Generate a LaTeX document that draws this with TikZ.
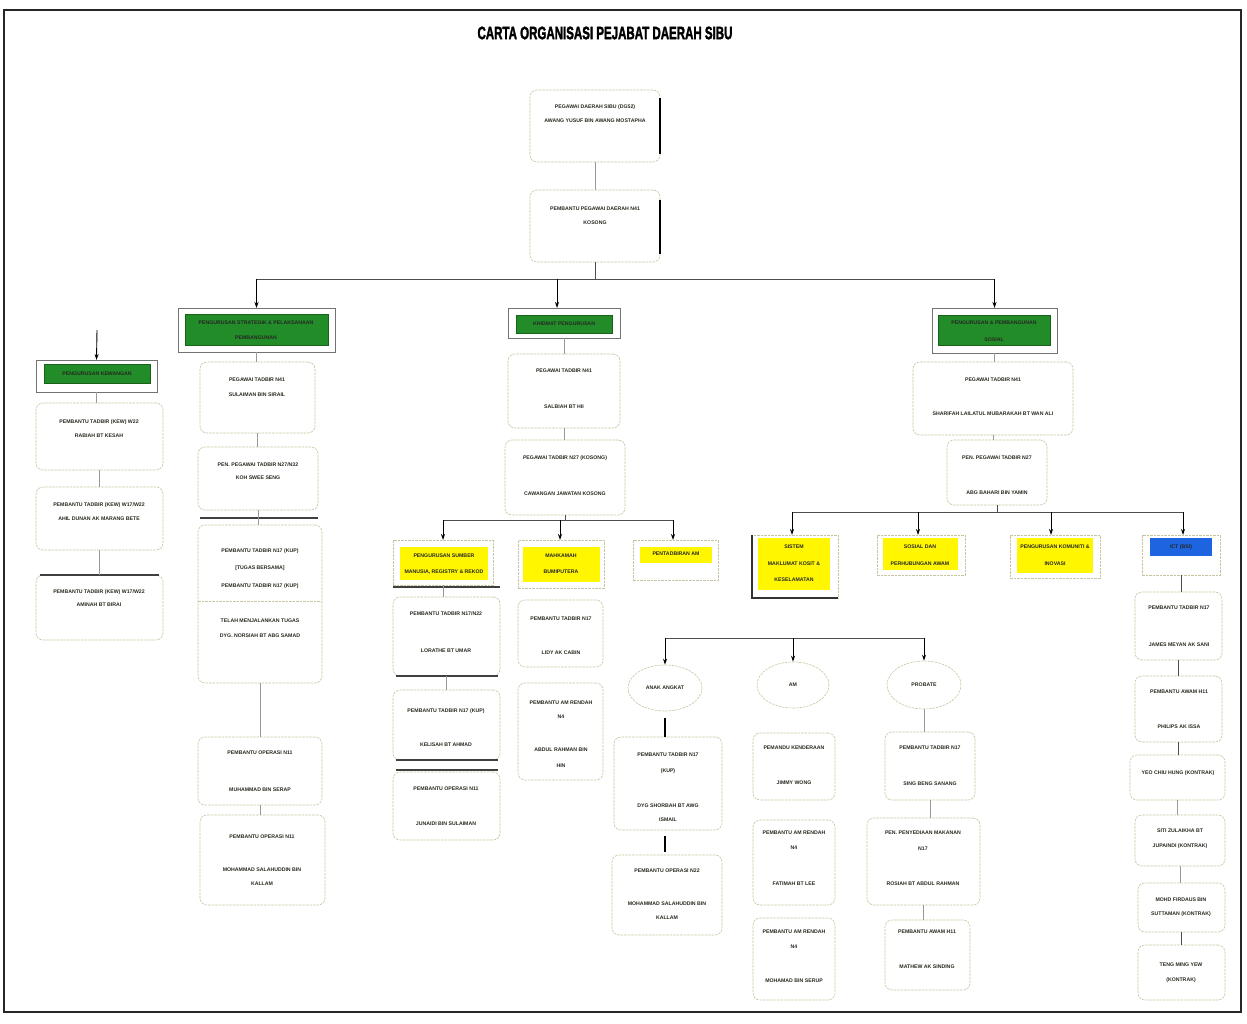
\documentclass[tikz,border=0pt]{standalone}
\usepackage{fontspec}
\usepackage{graphicx}
\setmainfont{Liberation Sans}
\newfontfamily\titlefont[FakeBold=2.5]{Liberation Sans Bold}
\usetikzlibrary{arrows.meta,shapes.geometric}
\definecolor{cardline}{RGB}{200,196,160}
\definecolor{hdgreen}{RGB}{34,140,40}
\definecolor{hdyellow}{RGB}{255,246,0}
\definecolor{hdblue}{RGB}{30,100,225}
\definecolor{txtc}{RGB}{40,40,30}
\tikzset{
  card/.style={draw=cardline,dash pattern=on 2.5pt off 1pt,line width=0.6pt,rounded corners=7pt,inner sep=0pt,outer sep=0pt},
  hdr/.style={draw=black!55,line width=0.6pt,inner sep=0pt,outer sep=0pt},
  subhdr/.style={draw=cardline,dash pattern=on 2.5pt off 1pt,line width=0.6pt,inner sep=0pt,outer sep=0pt},
  gfill/.style={fill=hdgreen,draw=hdgreen!70!black,line width=0.3pt,inner sep=0pt,outer sep=0pt},
  yfill/.style={fill=hdyellow,draw=none,inner sep=0pt,outer sep=0pt},
  bfill/.style={fill=hdblue,draw=none,inner sep=0pt,outer sep=0pt},
  ell/.style={ellipse,draw=cardline,dash pattern=on 2.5pt off 1pt,line width=0.6pt,inner sep=0pt},
  lab/.style={font=\fontsize{5.2}{6}\selectfont\bfseries,text=txtc,inner sep=0pt},
  hlab/.style={font=\fontsize{5.2}{6}\selectfont\bfseries,text=black!85,inner sep=0pt},
  conn/.style={draw=black!40,line width=0.5pt},
  dconn/.style={draw=black!70,line width=0.7pt},
  arr/.style={draw=black,line width=0.9pt,-{Stealth[length=6pt,width=4pt]}},
  rulek/.style={draw=black!75,line width=1.3pt},
  thickseg/.style={draw=black,line width=1.6pt}
}
\newcommand{\nb}[6]{\node[#1,anchor=north west,minimum width={#5pt-#3pt},minimum height={#6pt-#4pt}] (#2) at (#3,#4) {};}
\newcommand{\lb}[4]{\node[lab] (#1) at (#2,#3) {#4};}
\newcommand{\hl}[4]{\node[hlab] (#1) at (#2,#3) {#4};}
\begin{document}
\begin{tikzpicture}[x=1pt,y=-1pt]
\useasboundingbox (0,0) rectangle (1247,1024);
\draw[line width=1.3pt,black!85] (4,10) rectangle (1241,1012);
\node[inner sep=0pt] (title) at (605,33) {\scalebox{0.64}[1]{\fontsize{18}{18}\selectfont\titlefont CARTA ORGANISASI PEJABAT DAERAH SIBU}};

% top boxes
\nb{card}{pd}{530}{90}{660}{162}
\lb{pd1}{595}{107}{PEGAWAI DAERAH SIBU (DG52)}
\lb{pd2}{595}{121}{AWANG YUSUF BIN AWANG MOSTAPHA}
\draw[thickseg] (pd.north east) ++(0,8) -- ++(0,56);
\nb{card}{ppd}{530}{190}{660}{262}
\lb{ppd1}{595}{209}{PEMBANTU PEGAWAI DAERAH N41}
\lb{ppd2}{595}{223}{KOSONG}
\draw[thickseg] (ppd.north east) ++(0,10) -- ++(0,54);
\draw[conn] (pd.south) -- (ppd.north);

% main bus
\coordinate (bus) at (595,279);
\draw[dconn] (ppd.south) -- (bus);

% headers
\nb{hdr}{g1}{178}{308}{335}{352}
\nb{gfill}{g1i}{185}{314}{328}{345}
\hl{g1t1}{256}{323}{PENGURUSAN STRATEGIK \& PELAKSANAAN}
\hl{g1t2}{256}{338}{PEMBANGUNAN}
\nb{hdr}{g2}{508}{308}{620}{338}
\nb{gfill}{g2i}{516}{315}{612}{333}
\hl{g2t1}{564}{324}{KHIDMAT PENGURUSAN}
\nb{hdr}{g3}{932}{308}{1057}{353}
\nb{gfill}{g3i}{938}{315}{1050}{345}
\hl{g3t1}{994}{323}{PENGURUSAN \& PEMBANGUNAN}
\hl{g3t2}{994}{340}{SOSIAL}
\nb{hdr}{g0}{36}{360}{157}{392}
\nb{gfill}{g0i}{44}{364}{150}{383}
\hl{g0t1}{97}{374}{PENGURUSAN KEWANGAN}

\draw[dconn] (g1.north |- bus) -- (g3.north |- bus);
\draw[arr] (g1.north |- bus) -- (g1.north);
\draw[arr] (557,279) -- (557,308);
\draw[arr] (g3.north |- bus) -- (g3.north);
\coordinate (g0in) at (97,330);
\draw[arr] (g0in) -- (g0.north);

% column 0
\nb{card}{c0a}{36}{403}{163}{470}
\lb{c0a1}{99}{422}{PEMBANTU TADBIR (KEW) W22}
\lb{c0a2}{99}{436}{RABIAH BT KESAH}
\nb{card}{c0b}{36}{487}{163}{550}
\lb{c0b1}{99}{505}{PEMBANTU TADBIR (KEW) W17/W22}
\lb{c0b2}{99}{519}{AHIL DUNAN AK MARANG BETE}
\nb{card}{c0c}{36}{575}{163}{640}
\lb{c0c1}{99}{592}{PEMBANTU TADBIR (KEW) W17/W22}
\lb{c0c2}{99}{605}{AMINAH BT BIRAI}
\draw[rulek] (c0c.north west) ++(4,0) -- ++(119,0);
\draw[conn] (g0.south) -- (g0.south |- c0a.north);
\draw[conn] (c0a.south) -- (c0b.north);
\draw[conn] (c0b.south) -- (c0c.north);

% column 1
\nb{card}{c1a}{200}{362}{315}{433}
\lb{c1a1}{257}{380}{PEGAWAI TADBIR N41}
\lb{c1a2}{257}{395}{SULAIMAN BIN SIRAIL}
\nb{card}{c1b}{198}{447}{318}{510}
\lb{c1b1}{258}{465}{PEN. PEGAWAI TADBIR N27/N32}
\lb{c1b2}{258}{478}{KOH SWEE SENG}
\draw[rulek] (200,518) -- (318,518);
\nb{card}{c1c}{198}{525}{322}{683}
\lb{c1c1}{260}{551}{PEMBANTU TADBIR N17 (KUP)}
\lb{c1c2}{260}{568}{[TUGAS BERSAMA]}
\lb{c1c3}{260}{586}{PEMBANTU TADBIR N17 (KUP)}
\draw[draw=cardline,dash pattern=on 2.5pt off 1pt,line width=0.6pt] (c1c.west |- 0,601) -- (c1c.east |- 0,601);
\lb{c1c4}{260}{621}{TELAH MENJALANKAN TUGAS}
\lb{c1c5}{260}{636}{DYG. NORSIAH BT ABG SAMAD}
\nb{card}{c1d}{198}{737}{322}{805}
\lb{c1d1}{260}{753}{PEMBANTU OPERASI N11}
\lb{c1d2}{260}{790}{MUHAMMAD BIN SERAP}
\nb{card}{c1e}{200}{815}{325}{905}
\lb{c1e1}{262}{837}{PEMBANTU OPERASI N11}
\lb{c1e2}{262}{870}{MOHAMMAD SALAHUDDIN BIN}
\lb{c1e3}{262}{884}{KALLAM}
\draw[conn] (g1.south) -- (g1.south |- c1a.north);
\draw[conn] (c1a.south) -- (c1a.south |- c1b.north);
\draw[conn] (c1b.south) -- (c1b.south |- c1c.north);
\draw[conn] (c1c.south) -- (c1c.south |- c1d.north);
\draw[conn] (c1d.south) -- (c1d.south |- c1e.north);

% column 2
\nb{card}{c2a}{508}{354}{620}{428}
\lb{c2a1}{564}{371}{PEGAWAI TADBIR N41}
\lb{c2a2}{564}{407}{SALBIAH BT HII}
\nb{card}{c2b}{505}{440}{625}{515}
\lb{c2b1}{565}{458}{PEGAWAI TADBIR N27 (KOSONG)}
\lb{c2b2}{565}{494}{CAWANGAN JAWATAN KOSONG}
\draw[conn] (g2.south) -- (g2.south |- c2a.north);
\draw[conn] (c2a.south) -- (c2a.south |- c2b.north);
\coordinate (bus2) at (565,520);
\draw[dconn] (c2b.south) -- (bus2);

\nb{subhdr}{y2a}{393}{540}{493}{585}
\nb{yfill}{y2ai}{400}{547}{488}{580}
\hl{y2a1}{444}{556}{PENGURUSAN SUMBER}
\hl{y2a2}{444}{572}{MANUSIA, REGISTRY \& REKOD}
\nb{subhdr}{y2b}{518}{540}{604}{588}
\nb{yfill}{y2bi}{523}{547}{600}{582}
\hl{y2b1}{561}{556}{MAHKAMAH}
\hl{y2b2}{561}{572}{BUMIPUTERA}
\nb{subhdr}{y2c}{633}{540}{718}{580}
\nb{yfill}{y2ci}{640}{547}{712}{563}
\hl{y2c1}{676}{554}{PENTADBIRAN AM}
\draw[dconn] (443,520) -- (673,520);
\draw[arr] (443,520) -- (443,540);
\draw[arr] (560,520) -- (560,540);
\draw[arr] (673,520) -- (673,540);
\draw[rulek] (393,587) -- (500,587);

\nb{card}{c2c}{393}{597}{500}{676}
\lb{c2c1}{446}{614}{PEMBANTU TADBIR N17/N22}
\lb{c2c2}{446}{651}{LORATHE BT UMAR}
\draw[rulek] (396,676) -- (498,676);
\nb{card}{c2d}{393}{690}{500}{760}
\lb{c2d1}{446}{711}{PEMBANTU TADBIR N17 (KUP)}
\lb{c2d2}{446}{745}{KELISAH BT AHMAD}
\draw[rulek] (396,760) -- (498,760);
\draw[rulek] (396,770) -- (498,770);
\nb{card}{c2e}{393}{772}{500}{840}
\lb{c2e1}{446}{789}{PEMBANTU OPERASI N11}
\lb{c2e2}{446}{824}{JUNAIDI BIN SULAIMAN}
\draw[conn] (y2a.south) -- (y2a.south |- c2c.north);
\draw[conn] (c2c.south) -- (c2c.south |- c2d.north);

\nb{card}{c2f}{518}{600}{603}{667}
\lb{c2f1}{561}{619}{PEMBANTU TADBIR N17}
\lb{c2f2}{561}{653}{LIDY AK CABIN}
\nb{card}{c2g}{518}{683}{603}{780}
\lb{c2g1}{561}{703}{PEMBANTU AM RENDAH}
\lb{c2g2}{561}{717}{N4}
\lb{c2g3}{561}{750}{ABDUL RAHMAN BIN}
\lb{c2g4}{561}{766}{HIN}

% ellipses
\coordinate (bus4) at (795,638);
\node[ell,minimum width=74pt,minimum height=46pt] (ea) at (665,688) {};
\lb{ea1}{665}{688}{ANAK ANGKAT}
\node[ell,minimum width=72pt,minimum height=46pt] (eb) at (793,685) {};
\lb{eb1}{793}{685}{AM}
\node[ell,minimum width=74pt,minimum height=48pt] (ec) at (924,685) {};
\lb{ec1}{924}{685}{PROBATE}
\draw[dconn] (ea.north |- bus4) -- (ec.north |- bus4);
\draw[arr] (ea.north |- bus4) -- (ea.north);
\draw[arr] (eb.north |- bus4) -- (eb.north);
\draw[arr] (ec.north |- bus4) -- (ec.north);

\nb{card}{c3a}{614}{737}{722}{830}
\lb{c3a1}{668}{755}{PEMBANTU TADBIR N17}
\lb{c3a2}{668}{771}{(KUP)}
\lb{c3a3}{668}{806}{DYG SHORBAH BT AWG}
\lb{c3a4}{668}{820}{ISMAIL}
\nb{card}{c3b}{612}{855}{722}{935}
\lb{c3b1}{667}{871}{PEMBANTU OPERASI N22}
\lb{c3b2}{667}{904}{MOHAMMAD SALAHUDDIN BIN}
\lb{c3b3}{667}{918}{KALLAM}
\draw[thickseg,shorten <=7pt] (ea.south) -- (ea.south |- c3a.north);
\draw[thickseg,shorten <=6pt,shorten >=3pt] (ea.south |- c3a.south) -- (ea.south |- c3b.north);

\nb{card}{c4a}{753}{733}{835}{800}
\lb{c4a1}{794}{748}{PEMANDU KENDERAAN}
\lb{c4a2}{794}{783}{JIMMY WONG}
\nb{card}{c4b}{753}{820}{835}{905}
\lb{c4b1}{794}{833}{PEMBANTU AM RENDAH}
\lb{c4b2}{794}{848}{N4}
\lb{c4b3}{794}{884}{FATIMAH BT LEE}
\nb{card}{c4c}{753}{918}{835}{1000}
\lb{c4c1}{794}{932}{PEMBANTU AM RENDAH}
\lb{c4c2}{794}{947}{N4}
\lb{c4c3}{794}{981}{MOHAMAD BIN SERUP}

\nb{card}{c5a}{885}{732}{975}{800}
\lb{c5a1}{930}{748}{PEMBANTU TADBIR N17}
\lb{c5a2}{930}{784}{SING BENG SANANG}
\nb{card}{c5b}{867}{818}{980}{905}
\lb{c5b1}{923}{833}{PEN. PENYEDIAAN MAKANAN}
\lb{c5b2}{923}{849}{N17}
\lb{c5b3}{923}{884}{ROSIAH BT ABDUL RAHMAN}
\nb{card}{c5c}{885}{920}{970}{990}
\lb{c5c1}{927}{932}{PEMBANTU AWAM H11}
\lb{c5c2}{927}{967}{MATHEW AK SINDING}
\draw[conn] (ec.south) -- (ec.south |- c5a.north);
\draw[conn] (c5a.south) -- (c5a.south |- c5b.north);
\draw[conn] (c5b.south) -- (c5b.south |- c5c.north);

% column right
\nb{card}{c6a}{913}{362}{1073}{435}
\lb{c6a1}{993}{380}{PEGAWAI TADBIR N41}
\lb{c6a2}{993}{414}{SHARIFAH LAILATUL MUBARAKAH BT WAN ALI}
\nb{card}{c6b}{947}{440}{1047}{505}
\lb{c6b1}{997}{458}{PEN. PEGAWAI TADBIR N27}
\lb{c6b2}{997}{493}{ABG BAHARI BIN YAMIN}
\draw[conn] (g3.south) -- (g3.south |- c6a.north);
\draw[conn] (c6a.south) -- (c6a.south |- c6b.north);
\coordinate (bus3) at (997,512);
\draw[dconn] (c6b.south) -- (bus3);

\nb{subhdr}{y3a}{752}{535}{838}{598}
\nb{yfill}{y3ai}{758}{538}{830}{590}
\hl{y3a1}{794}{547}{SISTEM}
\hl{y3a2}{794}{564}{MAKLUMAT KOSIT \&}
\hl{y3a3}{794}{580}{KESELAMATAN}
\draw[draw=black!80,line width=1.3pt] (y3a.north west) -- (y3a.south west) -- (y3a.south east);
\nb{subhdr}{y3b}{877}{535}{965}{575}
\nb{yfill}{y3bi}{883}{538}{958}{570}
\hl{y3b1}{920}{547}{SOSIAL DAN}
\hl{y3b2}{920}{564}{PERHUBUNGAN AWAM}
\nb{subhdr}{y3c}{1010}{535}{1100}{578}
\nb{yfill}{y3ci}{1017}{538}{1093}{573}
\hl{y3c1}{1055}{547}{PENGURUSAN KOMUNITI \&}
\hl{y3c2}{1055}{564}{INOVASI}
\nb{subhdr}{b3d}{1142}{535}{1220}{575}
\nb{bfill}{b3di}{1150}{538}{1212}{556}
\hl{b3d1}{1181}{547}{ICT (BSI)}
\draw[dconn] (792,512) -- (1183,512);
\draw[arr] (792,512) -- (792,535);
\draw[arr] (918,512) -- (918,535);
\draw[arr] (1051,512) -- (1051,535);
\draw[arr] (1183,512) -- (1183,535);

\nb{card}{c7a}{1135}{592}{1222}{660}
\lb{c7a1}{1179}{608}{PEMBANTU TADBIR N17}
\lb{c7a2}{1179}{645}{JAMES MEYAN AK SANI}
\nb{card}{c7b}{1135}{676}{1222}{742}
\lb{c7b1}{1179}{692}{PEMBANTU AWAM H11}
\lb{c7b2}{1179}{727}{PHILIPS AK ISSA}
\nb{card}{c7c}{1130}{755}{1225}{800}
\lb{c7c1}{1178}{773}{YEO CHIU HUNG (KONTRAK)}
\nb{card}{c7d}{1135}{815}{1225}{866}
\lb{c7d1}{1180}{831}{SITI ZULAIKHA BT}
\lb{c7d2}{1180}{846}{JUPAINDI (KONTRAK)}
\nb{card}{c7e}{1138}{883}{1225}{932}
\lb{c7e1}{1181}{900}{MOHD FIRDAUS BIN}
\lb{c7e2}{1181}{914}{SUTTAMAN (KONTRAK)}
\nb{card}{c7f}{1138}{945}{1225}{1000}
\lb{c7f1}{1181}{965}{TENG MING YEW}
\lb{c7f2}{1181}{980}{(KONTRAK)}
\draw[dconn] (b3d.south) -- (b3d.south |- c7a.north);
\draw[dconn] (c7a.south) -- (c7a.south |- c7b.north);
\draw[dconn] (c7b.south) -- (c7b.south |- c7c.north);
\draw[conn] (c7c.south) -- (c7c.south |- c7d.north);
\draw[conn] (c7d.south) -- (c7d.south |- c7e.north);
\draw[dconn] (c7e.south) -- (c7e.south |- c7f.north);
\end{tikzpicture}
\end{document}
